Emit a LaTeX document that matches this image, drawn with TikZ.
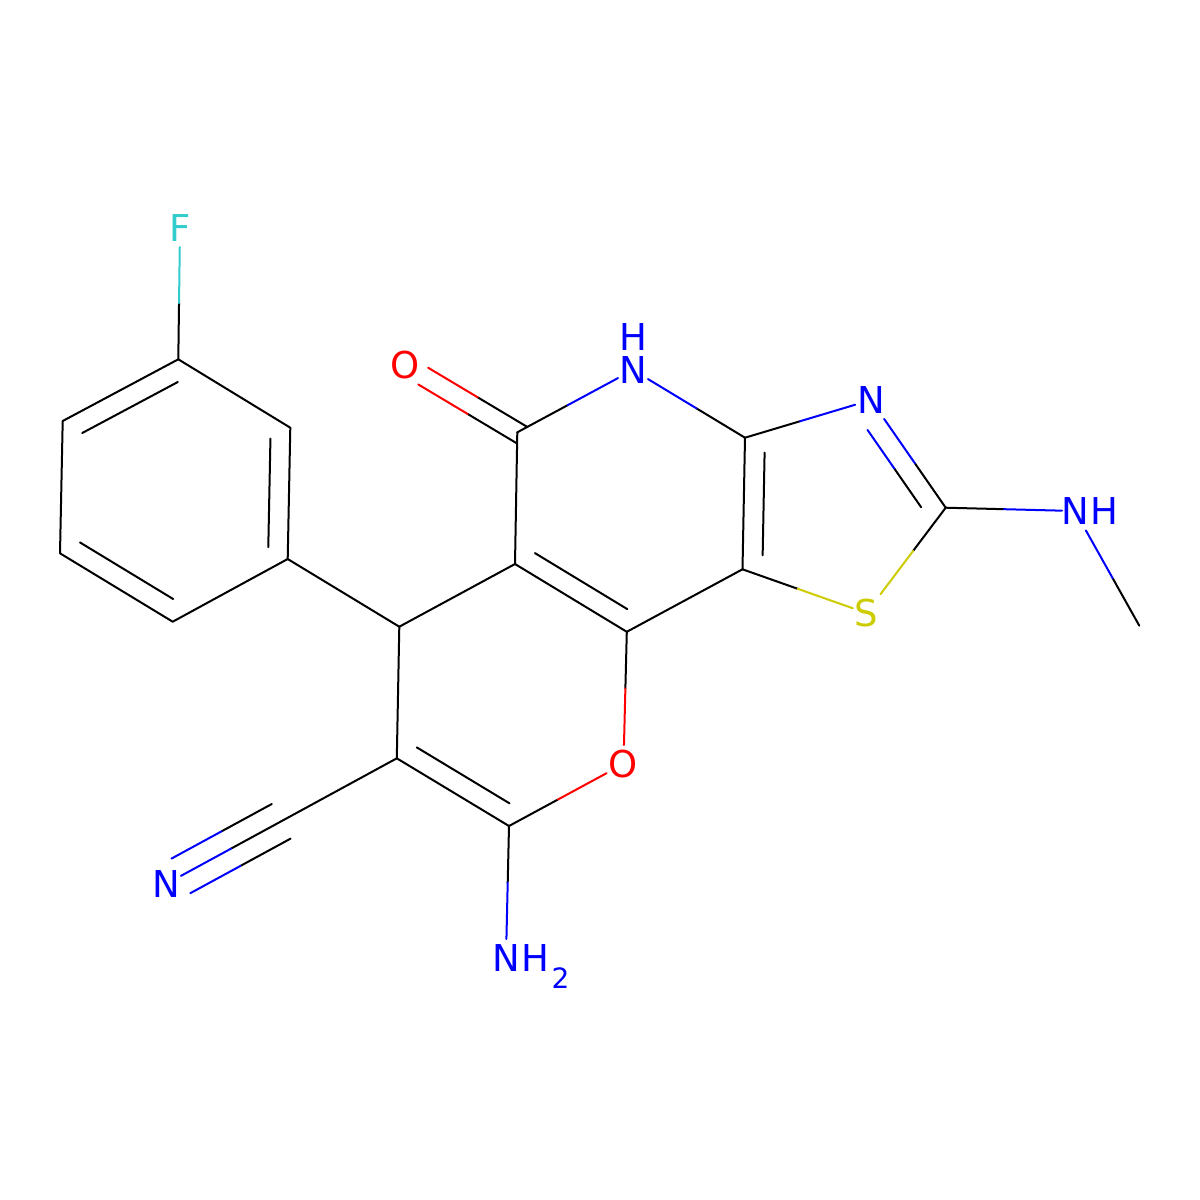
\documentclass[tikz,border=0pt]{standalone}
\usepackage{fontspec}
\newfontfamily\atomfont{DejaVu Sans}
\usetikzlibrary{calc}
\definecolor{nblue}{RGB}{0,0,255}
\definecolor{ored}{RGB}{255,0,0}
\definecolor{syel}{RGB}{204,204,0}
\definecolor{fcyan}{RGB}{51,204,204}
% split-coloured line between two named points
\newcommand\sline[4]{%
  \coordinate (slM) at ($(#1)!0.5!(#2)$);
  \draw[#3] (#1) -- (slM);
  \draw[#4] (slM) -- (#2);}
% bond from atom #1 to labelled atom #2, stopping #3 short of the label
\newcommand\hbond[5]{%
  \coordinate (hbE) at ($(#2)!#3!(#1)$);
  \sline{#1}{hbE}{#4}{#5}}
% inner line of a ring double bond
\newcommand\innerl[4]{%
  \draw ($(#3)!#4!(#1)$) -- ($(#3)!#4!(#2)$);}
\begin{document}
\begin{tikzpicture}[x=0.5pt,y=-0.5pt,line width=1pt,line cap=round,line join=round,
  lab/.style={inner sep=0pt,font=\atomfont\fontsize{18.5}{18.5}\selectfont},
  sublab/.style={inner sep=0pt,font=\atomfont\fontsize{14}{14}\selectfont}]
\fill[white] (0,0) rectangle (1200,1200);
% carbon atoms
\coordinate (b1) at (178.3,359.3);
\coordinate (b2) at (290.3,427.7);
\coordinate (b3) at (287.7,559);
\coordinate (b4) at (172.7,621.7);
\coordinate (b5) at (60,553.3);
\coordinate (b6) at (62.7,421);
\coordinate (C4) at (399.3,626.7);
\coordinate (C4a) at (515,564);
\coordinate (C5) at (517.3,432.3);
\coordinate (C3a) at (745,437.7);
\coordinate (C7a) at (742.5,569.3);
\coordinate (C8a) at (626.8,631.8);
\coordinate (C2t) at (945.7,507.7);
\coordinate (Cme) at (1139.3,625.7);
\coordinate (C2p) at (509,826);
\coordinate (C3) at (396.8,758.3);
\coordinate (Cn) at (281.2,821.3);
% labelled atoms
\node[lab,text=fcyan] (F) at (180,228) {F};
\node[lab,text=ored] (O5) at (405.5,365.5) {O};
\node[lab,text=nblue] (N6) at (633,370) {N};
\node[lab,text=nblue] (H6) at (633,337) {H};
\node[lab,text=nblue] (N3) at (871,400) {N};
\node[lab,text=nblue] (Nme) at (1075,511) {N};
\node[lab,text=nblue,anchor=west] (Hme) at (Nme.east) {H};
\node[lab,text=syel] (S1) at (866.3,613) {S};
\node[lab,text=ored] (O1) at (623.5,764) {O};
\node[lab,text=nblue] (Nam) at (506,958) {N};
\node[lab,text=nblue,anchor=west] (Ham) at (Nam.east) {H};
\node[sublab,text=nblue,anchor=base west] (two) at ($(Ham.base east)+(0,16.5)$) {2};
\node[lab,text=nblue] (Nn) at (166,884) {N};
% ring centres
\coordinate (Bc) at ($(b1)!0.5!(b4)$);
\coordinate (Pc) at ($(C4a)!0.5!(C3a)$);
\coordinate (Yc) at ($(C4a)!0.5!(C2p)$);
\coordinate (Tc) at ($0.2*(C3a)+0.2*(N3)+0.2*(C2t)+0.2*(S1)+0.2*(C7a)$);
% benzene ring
\draw (b1) -- (b2) -- (b3) -- (b4) -- (b5) -- (b6) -- cycle;
\innerl{b1}{b6}{Bc}{0.827}
\innerl{b2}{b3}{Bc}{0.827}
\innerl{b4}{b5}{Bc}{0.827}
\hbond{b1}{F}{9.5pt}{black}{fcyan}
% carbon skeleton
\draw (b3) -- (C4);
\draw (C4) -- (C4a);
\draw (C4) -- (C3);
\draw (C4a) -- (C5);
\draw (C4a) -- (C8a);
\innerl{C4a}{C8a}{Pc}{0.827}
\draw (C8a) -- (C7a);
\draw (C3a) -- (C7a);
\innerl{C3a}{C7a}{Tc}{0.78}
\draw (C3) -- (C2p);
\innerl{C3}{C2p}{Yc}{0.827}
\draw (C3) -- (Cn);
% carbonyl C=O
\coordinate (Oa) at ($(O5)!10.3pt!(C5)$);
\coordinate (Ou1) at ($(Oa)!4.85pt!90:(C5)$);
\coordinate (Ou2) at ($(C5)!5.67pt!(N6)$);
\coordinate (Ol1) at ($(Oa)!4.85pt!-90:(C5)$);
\coordinate (Ol2) at ($(C5)!5.6pt!(C4a)$);
\sline{Ou2}{Ou1}{black}{ored}
\sline{Ol2}{Ol1}{black}{ored}
% hetero bonds
\hbond{C5}{N6}{8.5pt}{black}{nblue}
\hbond{C3a}{N6}{8.75pt}{black}{nblue}
\hbond{C3a}{N3}{8.25pt}{black}{nblue}
\hbond{C2t}{N3}{11.5pt}{black}{nblue}
\coordinate (P1) at ($(Tc)!0.78!(C2t)$);
\coordinate (P2) at ($(Tc)!0.78!(N3)$);
\coordinate (P3) at ($(P1)!0.92!(P2)$);
\sline{P1}{P3}{black}{nblue}
\hbond{C2t}{Nme}{6.5pt}{black}{nblue}
\hbond{Cme}{Nme}{11.15pt}{black}{nblue}
\hbond{C2t}{S1}{11.8pt}{black}{syel}
\hbond{C7a}{S1}{7.15pt}{black}{syel}
\hbond{C8a}{O1}{9.5pt}{black}{ored}
\hbond{C2p}{O1}{9.6pt}{black}{ored}
\hbond{C2p}{Nam}{9.5pt}{black}{nblue}
% nitrile triple bond
\coordinate (NnE) at ($(Nn)!8.5pt!(Cn)$);
\sline{Cn}{NnE}{black}{nblue}
\coordinate (Ta1) at ($(Cn)!9.85pt!90:(Nn)$);
\coordinate (Ta2) at ($(NnE)!9.85pt!-90:(Cn)$);
\coordinate (Tb1) at ($(Cn)!9.85pt!-90:(Nn)$);
\coordinate (Tb2) at ($(NnE)!9.85pt!90:(Cn)$);
\sline{Ta1}{Ta2}{black}{nblue}
\sline{Tb1}{Tb2}{black}{nblue}
\end{tikzpicture}
\end{document}
